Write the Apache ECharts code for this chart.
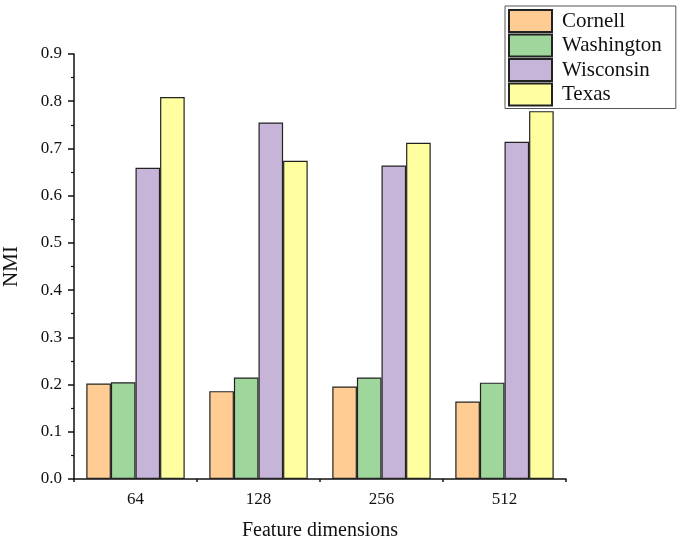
<!DOCTYPE html>
<html><head><meta charset="utf-8">
<script src="https://cdn.jsdelivr.net/npm/echarts@6/dist/echarts.min.js"></script>
<style>html,body{margin:0;padding:0;background:#fff}#c{width:678px;height:548px}</style>
</head><body><div id="c"></div>
<script>
const categories = ['64', '128', '256', '512'];
const cornell = [0.202, 0.186, 0.196, 0.164];
const washington = [0.205, 0.215, 0.215, 0.204];
const wisconsin = [0.659, 0.755, 0.664, 0.714];
const texas = [0.809, 0.674, 0.712, 0.779];
const seriesNames = ['Cornell', 'Washington', 'Wisconsin', 'Texas'];
const colors = ['#FFCD94', '#9ED69C', '#C7B5D9', '#FFFFA0'];
const values = [cornell, washington, wisconsin, texas];

const font = "'Liberation Serif', 'DejaVu Serif', serif";
const chart = echarts.init(document.getElementById('c'));
chart.setOption({
  animation: false,
  backgroundColor: '#fff',
  grid: { left: 74, right: 112, top: 54, bottom: 69, containLabel: false, outerBoundsMode: 'none' },
  legend: {
    left: 505, top: 6,
    orient: 'vertical',
    icon: 'rect',
    itemWidth: 43, itemHeight: 22, itemGap: 0.5,
    padding: [3, 14, 2, 3],
    borderColor: '#555', borderWidth: 1,
    textStyle: { fontFamily: font, fontSize: 21, lineHeight: 21, color: '#111', padding: [0, 0, 0, 5] },
    data: seriesNames
  },
  xAxis: [{
    type: 'category', data: categories,
    name: 'Feature dimensions', nameLocation: 'middle', nameGap: 42,
    nameTextStyle: { fontFamily: font, fontSize: 20, color: '#111' },
    axisLine: { lineStyle: { color: '#111', width: 1.5 } },
    axisTick: { alignWithLabel: true, length: 6, lineStyle: { color: '#111', width: 1.5 } },
    axisLabel: { fontFamily: font, fontSize: 17, color: '#111', margin: 12 }
  }, {
    type: 'category', data: categories, position: 'bottom',
    axisLine: { show: false },
    axisTick: { show: true, length: 3, lineStyle: { color: '#111', width: 1.5 } },
    axisLabel: { show: false }
  }],
  yAxis: {
    type: 'value', min: 0, max: 0.9, interval: 0.1,
    name: 'NMI', nameLocation: 'middle', nameGap: 52,
    nameTextStyle: { fontFamily: font, fontSize: 21, color: '#111' },
    axisLine: { show: true, lineStyle: { color: '#111', width: 1.5 } },
    axisTick: { show: true, length: 6, lineStyle: { color: '#111', width: 1.5 } },
    minorTick: { show: true, splitNumber: 2, length: 3, lineStyle: { color: '#111', width: 1.2 } },
    splitLine: { show: false },
    axisLabel: { fontFamily: font, fontSize: 17, color: '#111', margin: 12,
      formatter: v => v.toFixed(1) }
  },
  series: seriesNames.map((n, i) => ({
    name: n, type: 'bar', xAxisIndex: 0, data: values[i],
    barGap: '0%', barCategoryGap: '20%',
    itemStyle: { color: colors[i], borderColor: '#222', borderWidth: 1.2 }
  }))
});
</script></body></html>
